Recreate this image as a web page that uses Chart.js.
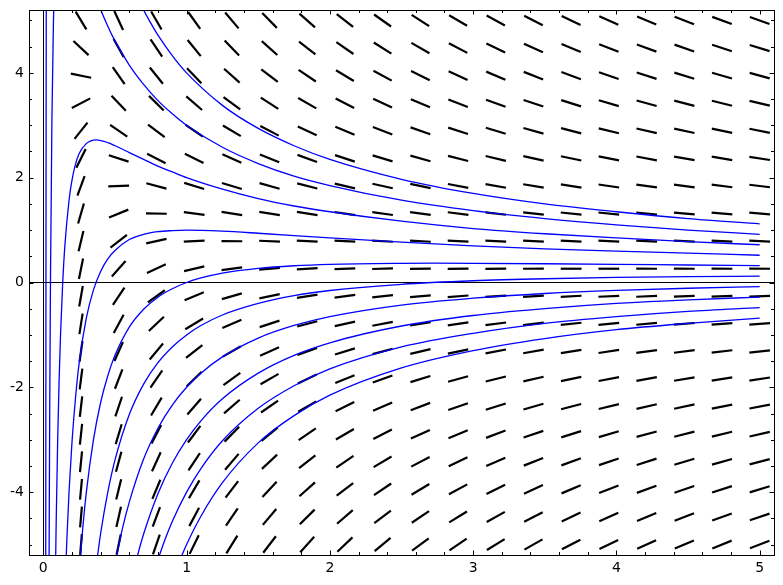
<!DOCTYPE html>
<html>
<head>
<meta charset="utf-8">
<script src="https://cdn.jsdelivr.net/npm/chart.js@4.4.0/dist/chart.umd.min.js"></script>
<style>
  html, body { margin: 0; padding: 0; background: #fff; }
  #wrap { width: 783px; height: 585px; position: relative; }
</style>
</head>
<body>
<div id="wrap"><canvas id="slopeChart"></canvas></div>
<script>
// axis ticks
const xTicks = [0, 0.2, 0.4, 0.6, 0.8, 1, 1.2, 1.4, 1.6, 1.8, 2, 2.2, 2.4, 2.6, 2.8, 3,
                3.2, 3.4, 3.6, 3.8, 4, 4.2, 4.4, 4.6, 4.8, 5];
const yTicks = [-5, -4.5, -4, -3.5, -3, -2.5, -2, -1.5, -1, -0.5, 0, 0.5, 1, 1.5, 2,
                2.5, 3, 3.5, 4, 4.5, 5];
const xMajor = [0, 1, 2, 3, 4, 5];
const xLabels = ['0', '1', '2', '3', '4', '5'];
const yMajor = [-4, -2, 0, 2, 4];
const yLabels = ['-4', '-2', '0', '2', '4'];

// slope field grid (centres of the little segments)
const fieldX = [0.263, 0.526, 0.789, 1.053, 1.316, 1.579, 1.842, 2.105, 2.368, 2.632,
                2.895, 3.158, 3.421, 3.684, 3.947, 4.211, 4.474, 4.737, 5.0];
const fieldY = [-5, -4.474, -3.947, -3.421, -2.895, -2.368, -1.842, -1.316, -0.789, -0.263,
                0.263, 0.789, 1.316, 1.842, 2.368, 2.895, 3.421, 3.947, 4.474, 5];

// slope of each segment, one row per column of fieldX, bottom to top
const fieldSlopes = [
  [33.44, 31.44, 29.44, 27.44, 25.44, 23.44, 21.44, 19.44, 17.44, 15.44, 13.44, 11.44, 9.44, 7.44, 5.44, 3.44, 1.44, -0.56, -2.56, -4.56],
  [13.11, 12.11, 11.11, 10.11, 9.11, 8.11, 7.11, 6.11, 5.11, 4.11, 3.11, 2.11, 1.11, 0.11, -0.89, -1.89, -2.89, -3.89, -4.89, -5.89],
  [7.94, 7.27, 6.60, 5.94, 5.27, 4.60, 3.94, 3.27, 2.60, 1.94, 1.27, 0.60, -0.06, -0.73, -1.40, -2.06, -2.73, -3.40, -4.06, -4.73],
  [5.65, 5.15, 4.65, 4.15, 3.65, 3.15, 2.65, 2.15, 1.65, 1.15, 0.65, 0.15, -0.35, -0.85, -1.35, -1.85, -2.35, -2.85, -3.35, -3.85],
  [4.38, 3.98, 3.58, 3.18, 2.78, 2.38, 1.98, 1.58, 1.18, 0.78, 0.38, -0.02, -0.42, -0.82, -1.22, -1.62, -2.02, -2.42, -2.82, -3.22],
  [3.57, 3.23, 2.90, 2.57, 2.23, 1.90, 1.57, 1.23, 0.90, 0.57, 0.23, -0.10, -0.43, -0.77, -1.10, -1.43, -1.77, -2.10, -2.43, -2.77],
  [3.01, 2.72, 2.44, 2.15, 1.87, 1.58, 1.30, 1.01, 0.72, 0.44, 0.15, -0.13, -0.42, -0.70, -0.99, -1.28, -1.56, -1.85, -2.13, -2.42],
  [2.60, 2.35, 2.10, 1.85, 1.60, 1.35, 1.10, 0.85, 0.60, 0.35, 0.10, -0.15, -0.40, -0.65, -0.90, -1.15, -1.40, -1.65, -1.90, -2.15],
  [2.29, 2.07, 1.85, 1.62, 1.40, 1.18, 0.96, 0.73, 0.51, 0.29, 0.07, -0.16, -0.38, -0.60, -0.82, -1.04, -1.27, -1.49, -1.71, -1.93],
  [2.04, 1.84, 1.64, 1.44, 1.24, 1.04, 0.84, 0.64, 0.44, 0.24, 0.04, -0.16, -0.36, -0.56, -0.76, -0.96, -1.16, -1.36, -1.56, -1.76],
  [1.85, 1.66, 1.48, 1.30, 1.12, 0.94, 0.76, 0.57, 0.39, 0.21, 0.03, -0.15, -0.34, -0.52, -0.70, -0.88, -1.06, -1.24, -1.43, -1.61],
  [1.68, 1.52, 1.35, 1.18, 1.02, 0.85, 0.68, 0.52, 0.35, 0.18, 0.02, -0.15, -0.32, -0.48, -0.65, -0.82, -0.98, -1.15, -1.32, -1.48],
  [1.55, 1.39, 1.24, 1.09, 0.93, 0.78, 0.62, 0.47, 0.32, 0.16, 0.01, -0.15, -0.30, -0.45, -0.61, -0.76, -0.91, -1.07, -1.22, -1.38],
  [1.43, 1.29, 1.15, 1.00, 0.86, 0.72, 0.57, 0.43, 0.29, 0.14, 0.00, -0.14, -0.28, -0.43, -0.57, -0.71, -0.86, -1.00, -1.14, -1.28],
  [1.33, 1.20, 1.06, 0.93, 0.80, 0.66, 0.53, 0.40, 0.26, 0.13, 0.00, -0.13, -0.27, -0.40, -0.54, -0.67, -0.80, -0.94, -1.07, -1.20],
  [1.24, 1.12, 0.99, 0.87, 0.74, 0.62, 0.49, 0.37, 0.24, 0.12, -0.01, -0.13, -0.26, -0.38, -0.51, -0.63, -0.76, -0.88, -1.01, -1.13],
  [1.17, 1.05, 0.93, 0.81, 0.70, 0.58, 0.46, 0.34, 0.23, 0.11, -0.01, -0.13, -0.24, -0.36, -0.48, -0.60, -0.71, -0.83, -0.95, -1.07],
  [1.10, 0.99, 0.88, 0.77, 0.66, 0.54, 0.43, 0.32, 0.21, 0.10, -0.01, -0.12, -0.23, -0.34, -0.46, -0.57, -0.68, -0.79, -0.90, -1.01],
  [1.04, 0.93, 0.83, 0.72, 0.62, 0.51, 0.41, 0.30, 0.20, 0.09, -0.01, -0.12, -0.22, -0.33, -0.43, -0.54, -0.64, -0.75, -0.85, -0.96]
];

// solution curves, [x, y] points (points outside the frame get clipped)
const curveA = [[0.0165,-6.3],[0.0175,-2.63],[0.0185,0.54],[0.0195,3.21],[0.0205,5.5],[0.05,20.1],[0.3,9.32],[0.6,5.81],[0.7,5.2],[0.75,4.95],[0.8,4.72],[0.9,4.33],[1,4],[1.25,3.38],[1.5,2.94],[1.75,2.61],[2,2.35],[2.5,1.97],[3,1.7],[3.5,1.5],[4,1.35],[4.5,1.22],[5,1.12]];
const curveB = [[0.0395,-5.85],[0.042,-4.05],[0.045,-2.24],[0.05,0.08],[0.06,3.12],[0.07,4.87],[0.08,5.93],[0.135,7.39],[0.25,6.46],[0.35,5.57],[0.4,5.21],[0.45,4.89],[0.5,4.61],[0.6,4.15],[0.7,3.78],[0.8,3.47],[0.9,3.22],[1,3],[1.25,2.58],[1.5,2.27],[1.75,2.03],[2,1.85],[2.5,1.57],[3,1.37],[3.5,1.22],[4,1.1],[4.5,1.0],[5,0.92]];
const curveC = [[0.084,-5.68],[0.09,-4.53],[0.1,-3.03],[0.11,-1.88],[0.12,-1.0],[0.135,-0.02],[0.15,0.69],[0.18,1.58],[0.2,1.95],[0.22,2.21],[0.25,2.46],[0.3,2.65],[0.368,2.72],[0.45,2.67],[0.5,2.61],[0.6,2.48],[0.7,2.35],[0.8,2.22],[0.9,2.11],[1,2],[1.25,1.78],[1.5,1.6],[1.75,1.46],[2,1.35],[2.5,1.17],[3,1.03],[3.5,0.93],[4,0.85],[4.5,0.78],[5,0.72]];
const curveD = [[0.155,-5.57],[0.165,-4.86],[0.18,-3.97],[0.2,-3.05],[0.225,-2.19],[0.25,-1.54],[0.3,-0.68],[0.35,-0.14],[0.4,0.21],[0.45,0.45],[0.5,0.61],[0.6,0.82],[0.7,0.92],[0.8,0.97],[0.9,0.99],[1,1],[1.25,0.98],[1.5,0.94],[2,0.85],[2.5,0.77],[3,0.7],[3.5,0.64],[4,0.6],[4.5,0.56],[5,0.52]];
const curveE = [[0.25,-5.55],[0.27,-4.85],[0.3,-4.01],[0.35,-3.0],[0.4,-2.29],[0.45,-1.78],[0.5,-1.39],[0.6,-0.85],[0.7,-0.51],[0.8,-0.28],[0.9,-0.12],[1,0],[1.1,0.087],[1.25,0.18],[1.5,0.27],[1.75,0.32],[2,0.347],[2.5,0.366],[2.72,0.368],[3,0.366],[3.5,0.358],[4,0.347],[4.5,0.334],[5,0.322]];
const curveF = [[0.37,-5.39],[0.4,-4.79],[0.45,-4.0],[0.5,-3.39],[0.6,-2.52],[0.7,-1.94],[0.8,-1.53],[0.9,-1.23],[1,-1],[1.1,-0.82],[1.25,-0.62],[1.5,-0.4],[1.75,-0.25],[2,-0.153],[2.5,-0.034],[3,0.033],[3.5,0.072],[4,0.097],[4.5,0.112],[5,0.122]];
const curveG = [[0.5,-5.39],[0.55,-4.72],[0.6,-4.19],[0.7,-3.37],[0.8,-2.78],[0.9,-2.34],[1,-2],[1.1,-1.73],[1.25,-1.42],[1.5,-1.06],[1.75,-0.82],[2,-0.65],[2.5,-0.43],[3,-0.3],[3.5,-0.21],[4,-0.15],[4.5,-0.11],[5,-0.08]];
const curveH = [[0.64,-5.38],[0.7,-4.8],[0.8,-4.03],[0.9,-3.45],[1,-3],[1.1,-2.64],[1.25,-2.22],[1.5,-1.73],[1.75,-1.39],[2,-1.15],[2.5,-0.83],[3,-0.63],[3.5,-0.5],[4,-0.4],[4.5,-0.33],[5,-0.28]];
const curveI = [[0.78,-5.45],[0.85,-4.9],[0.9,-4.56],[1,-4],[1.1,-3.55],[1.25,-3.02],[1.5,-2.4],[1.75,-1.97],[2,-1.65],[2.5,-1.23],[3,-0.97],[3.5,-0.78],[4,-0.65],[4.5,-0.55],[5,-0.48]];
const curveJ = [[0.95,-5.32],[1,-5],[1.1,-4.46],[1.25,-3.82],[1.5,-3.06],[1.75,-2.54],[2,-2.15],[2.5,-1.63],[3,-1.3],[3.5,-1.07],[4,-0.9],[4.5,-0.78],[5,-0.68]];

const curves = [curveA, curveB, curveC, curveD, curveE, curveF, curveG, curveH, curveI, curveJ];

// build the segment points
const fieldPoints = [];
fieldX.forEach((x, i) => {
    fieldY.forEach((y, j) => {
        fieldPoints.push({x: x, y: y, s: fieldSlopes[i][j]});
    });
});

function majorIndex(list, v) {
    return list.findIndex(m => Math.abs(m - v) < 1e-9);
}

// frame round the plot + small inward ticks on all four sides
const frameTicks = {
    id: 'frameTicks',
    afterDatasetsDraw(chart) {
        const ctx = chart.ctx;
        const a = chart.chartArea;
        const sx = chart.scales.x, sy = chart.scales.y;
        ctx.save();
        ctx.strokeStyle = '#000';
        ctx.lineWidth = 1;
        ctx.beginPath();
        sx.ticks.forEach(t => {
            const px = Math.round(sx.getPixelForValue(t.value)) + 0.5;
            const len = majorIndex(xMajor, t.value) >= 0 ? 4.5 : 3;
            ctx.moveTo(px, a.bottom); ctx.lineTo(px, a.bottom - len);
            ctx.moveTo(px, a.top); ctx.lineTo(px, a.top + len);
        });
        sy.ticks.forEach(t => {
            const py = Math.round(sy.getPixelForValue(t.value)) + 0.5;
            const len = majorIndex(yMajor, t.value) >= 0 ? 4.5 : 3;
            ctx.moveTo(a.left, py); ctx.lineTo(a.left + len, py);
            ctx.moveTo(a.right, py); ctx.lineTo(a.right - len, py);
        });
        ctx.stroke();
        ctx.strokeRect(a.left + 0.5, a.top + 0.5, a.right - a.left, a.bottom - a.top);
        ctx.restore();
    }
};

const axisLine = c => (c.tick && Math.abs(c.tick.value) < 1e-9) ? '#000' : 'rgba(0,0,0,0)';

const datasets = curves.map(pts => ({
    type: 'line',
    data: pts.map(p => ({x: p[0], y: p[1]})),
    borderColor: '#0000ff',
    borderWidth: 1.3,
    pointRadius: 0,
    fill: false,
    cubicInterpolationMode: 'monotone',
    order: 1
}));

datasets.push({
    type: 'scatter',
    data: fieldPoints,
    pointStyle: 'line',
    pointRadius: 10.4,
    pointHoverRadius: 10.4,
    pointBorderWidth: 2.2,
    pointBorderColor: '#000',
    pointBackgroundColor: '#000',
    pointRotation: (c) => {
        const sx = c.chart.scales.x, sy = c.chart.scales.y;
        const kx = sx.getPixelForValue(1) - sx.getPixelForValue(0);
        const ky = sy.getPixelForValue(0) - sy.getPixelForValue(1);
        return -Math.atan(c.raw.s * ky / kx) * 180 / Math.PI;
    },
    order: 2
});

const tickFont = {family: "'DejaVu Sans', sans-serif", size: 14};

new Chart(document.getElementById('slopeChart'), {
    type: 'scatter',
    data: {datasets: datasets},
    options: {
        responsive: true,
        maintainAspectRatio: false,
        animation: false,
        events: [],
        layout: {autoPadding: false, padding: {top: 10, right: 9, left: 0, bottom: 0}},
        plugins: {legend: {display: false}, tooltip: {enabled: false}},
        scales: {
            x: {
                type: 'linear',
                min: -0.1,
                max: 5.1,
                border: {display: false},
                grid: {drawTicks: false, color: axisLine, lineWidth: 1},
                afterBuildTicks: s => { s.ticks = xTicks.map(v => ({value: v})); },
                ticks: {
                    autoSkip: false,
                    maxRotation: 0,
                    padding: 5,
                    color: '#000',
                    font: tickFont,
                    callback: v => { const k = majorIndex(xMajor, v); return k >= 0 ? xLabels[k] : ''; }
                },
                afterFit: s => { s.height = 30; s.paddingLeft = 0; s.paddingRight = 0; }
            },
            y: {
                type: 'linear',
                min: -5.2,
                max: 5.2,
                border: {display: false},
                grid: {drawTicks: false, color: axisLine, lineWidth: 1},
                afterBuildTicks: s => { s.ticks = yTicks.map(v => ({value: v})); },
                ticks: {
                    autoSkip: false,
                    padding: 5,
                    color: '#000',
                    font: tickFont,
                    callback: v => { const k = majorIndex(yMajor, v); return k >= 0 ? yLabels[k] : ''; }
                },
                afterFit: s => { s.width = 29; s.paddingTop = 0; s.paddingBottom = 0; }
            }
        }
    },
    plugins: [frameTicks]
});
</script>
</body>
</html>
